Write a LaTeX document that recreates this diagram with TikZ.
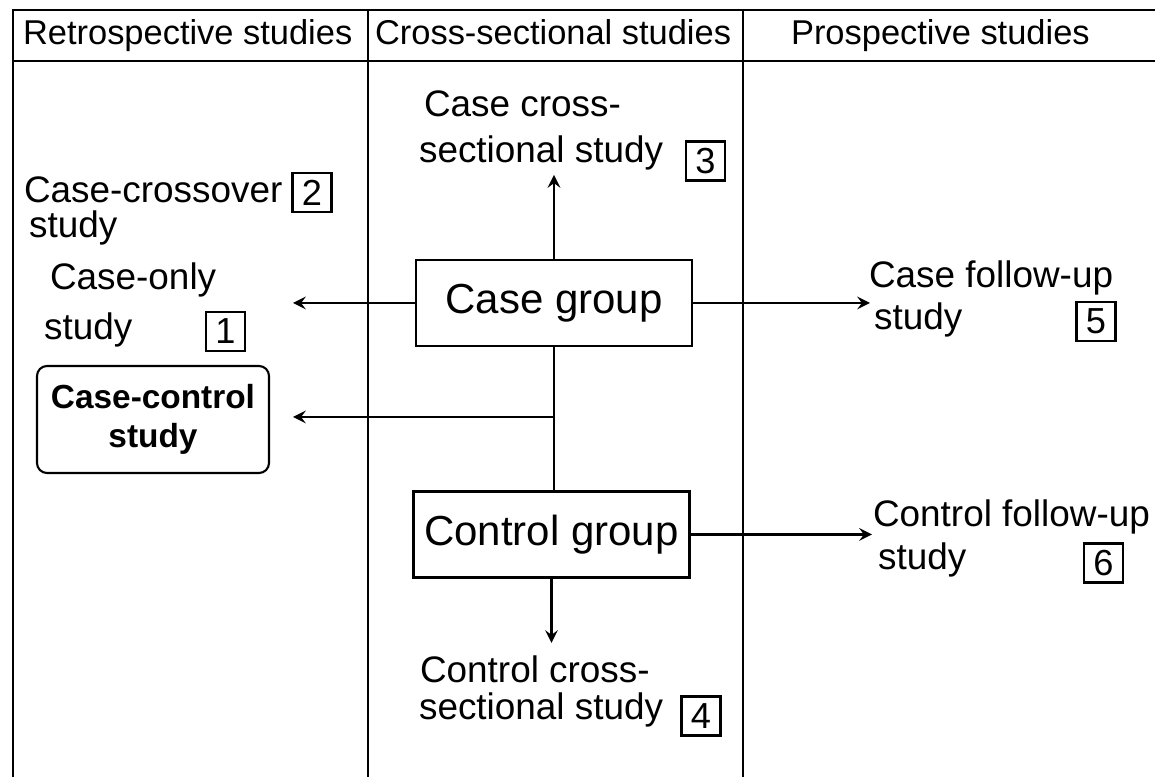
\documentclass[tikz,border=0pt]{standalone}
\usepackage{fontspec}
\setmainfont{Liberation Sans}
\usetikzlibrary{arrows}
\usetikzlibrary{calc}

\tikzset{
	txt/.style		= {anchor=base west, inner sep=0pt, font=\fontsize{10.5}{12}\selectfont},
	head/.style		= {anchor=base west, inner sep=0pt, font=\fontsize{9.8}{11}\selectfont},
	numbox/.style	= {draw, inner sep=0pt, minimum size=3.9mm, font=\fontsize{10.3}{12}\selectfont},
	group/.style	= {draw, inner sep=0pt, minimum width=27.6mm, minimum height=8.6mm, font=\fontsize{11.95}{14}\selectfont},
}

\begin{document}
\begin{tikzpicture}[x=0.1mm, y=-0.1mm, line width=0.6pt, >=stealth]
		\useasboundingbox (0,0) rectangle (1155,777);

		% table
		\draw (1155,10) -- (13,10) -- (13,777);
		\draw (13,61) -- (1155,61);
		\draw (368,10) -- (368,777);
		\draw (743,10) -- (743,777);
		\node(retro)	[head] at (22,45)	{Retrospective studies};
		\node(cross)	[head] at (374,45)	{Cross-sectional studies};
		\node(prosp)	[head] at (790,45)	{Prospective studies};

		% groups
		\node(case)		[group] at (554,303)	{Case group};
		\node(control)	[group] at (551.5,534.5)	{Control group};
		\node(cc)		[draw, rounded corners=1mm, minimum width=23.2mm, minimum height=10.7mm, align=center,
						font=\fontsize{9.5}{11.1}\selectfont\bfseries] at (153,419.5)	{Case-control\\study};

		% studies
		\node(ccs1)		[txt] at (423,117)	{Case cross-};
		\node(ccs2)		[txt] at (418,163)	{sectional study};
		\node(n3)		[numbox] at (705.5,161)	{3};
		\node(cco1)		[txt] at (23,203)	{Case-crossover};
		\node(cco2)		[txt] at (28,238)	{study};
		\node(n2)		[numbox] at (312,192.5)	{2};
		\node(co1)		[txt] at (49,290)	{Case-only};
		\node(co2)		[txt] at (43,340)	{study};
		\node(n1)		[numbox] at (225.5,331.5)	{1};
		\node(cfu1)		[txt] at (868,288)	{Case follow-up};
		\node(cfu2)		[txt] at (873,330)	{study};
		\node(n5)		[numbox] at (1096,321.5)	{5};
		\node(kfu1)		[txt] at (872,527)	{Control follow-up};
		\node(kfu2)		[txt] at (877,570)	{study};
		\node(n6)		[numbox] at (1103.5,563)	{6};
		\node(kcs1)		[txt] at (419,683)	{Control cross-};
		\node(kcs2)		[txt] at (418,720)	{sectional study};
		\node(n4)		[numbox] at (701,716)	{4};

		% arrow ends
		\coordinate(toonly)		at (293,303);
		\coordinate(tocc)		at (293,417);
		\coordinate(tocsec)		at (554,175);
		\coordinate(tocfu)		at (870,303);
		\coordinate(tokfu)		at (872,534.5);
		\coordinate(toksec)		at (551.5,643);
		\coordinate(branch)		at (554,417);

		\draw[->](case.west)	-- (toonly);
		\draw[->](case.north)	-- (tocsec);
		\draw[->](case.east)	-- (tocfu);
		\draw(case.south)		-- (case.south |- control.north);
		\draw[->](branch)		-- (tocc);
		\draw[->](control.east)	-- (tokfu);
		\draw[->](control.south)	-- (toksec);
	\end{tikzpicture}
\end{document}
